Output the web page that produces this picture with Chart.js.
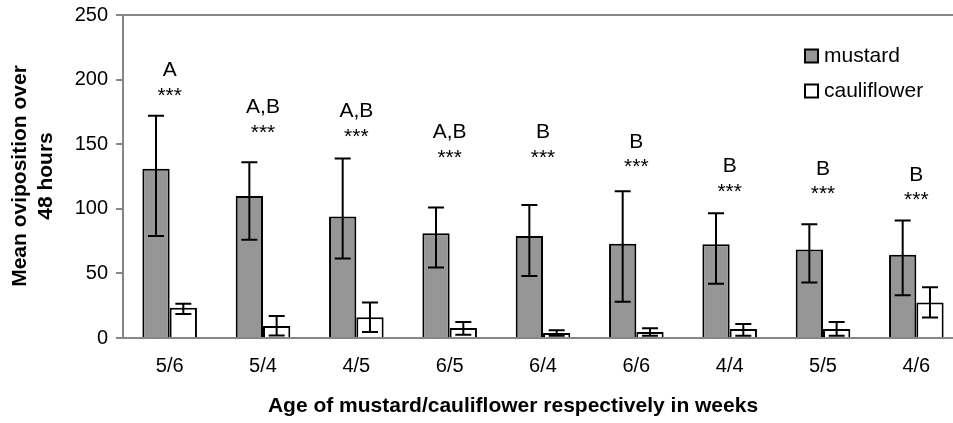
<!DOCTYPE html>
<html>
<head>
<meta charset="utf-8">
<script src="https://cdn.jsdelivr.net/npm/chart.js@4"></script>
<style>
  html, body { margin: 0; padding: 0; background: #fff; overflow: hidden; }
  #wrap { width: 953px; height: 423px; overflow: hidden; }
</style>
</head>
<body>
<div id="wrap"><canvas id="ovipositionChart" width="975" height="423"></canvas></div>
<script>
  // mustard/cauliflower age combinations (weeks)
  const categories = ["5/6", "5/4", "4/5", "6/5", "6/4", "6/6", "4/4", "5/5", "4/6"];

  // mean eggs laid over 48 h, with upper/lower ends of the error bars
  const mustard     = [131, 110, 94, 81, 79, 73, 72.5, 68.5, 64.5];
  const mustardHigh = [172, 136, 139, 101, 103, 113.5, 96.5, 88, 91];
  const mustardLow  = [79, 76, 61.5, 54.5, 48, 28, 42, 43, 33];

  const cauliflower     = [23.5, 9.3, 16, 7.7, 3.9, 4.6, 7, 7, 27.4];
  const cauliflowerHigh = [26.6, 17, 27.4, 12.4, 6, 7.5, 10.8, 12.4, 39.2];
  const cauliflowerLow  = [18.6, 2, 4.6, 2.6, 1.8, 1.7, 1.8, 1.8, 15.8];

  // significance letters and the height (in eggs) where the *** sits
  const groupLetters = ["A", "A,B", "A,B", "A,B", "B", "B", "B", "B", "B"];
  const starsAt = [191, 162, 159, 143, 143, 135.5, 116.5, 114.5, 110];

  const yTicks = [0, 50, 100, 150, 200, 250];

  const FONT = "'Liberation Sans', Arial, sans-serif";
  const GRAY_LINE = "#868686";

  const errorBars = {
    id: "errorBars",
    afterDatasetsDraw(chart) {
      const ctx = chart.ctx;
      const y = chart.scales.y;
      const ranges = [[mustardHigh, mustardLow], [cauliflowerHigh, cauliflowerLow]];
      ctx.save();
      ctx.strokeStyle = "#000";
      ctx.lineWidth = 2;
      chart.data.datasets.forEach((ds, d) => {
        const [hi, lo] = ranges[d];
        chart.getDatasetMeta(d).data.forEach((bar, i) => {
          const x = bar.x;
          const yh = y.getPixelForValue(hi[i]);
          const yl = y.getPixelForValue(lo[i]);
          ctx.beginPath();
          ctx.moveTo(x, yh); ctx.lineTo(x, yl);
          ctx.moveTo(x - 8, yh); ctx.lineTo(x + 8, yh);
          ctx.moveTo(x - 8, yl); ctx.lineTo(x + 8, yl);
          ctx.stroke();
        });
      });
      ctx.restore();
    }
  };

  const annotations = {
    id: "annotations",
    afterDraw(chart) {
      const ctx = chart.ctx;
      const xs = chart.scales.x, ys = chart.scales.y;
      ctx.save();
      ctx.fillStyle = "#000";
      ctx.textAlign = "center";
      ctx.textBaseline = "middle";
      ctx.font = "21px " + FONT;
      categories.forEach((c, i) => {
        const x = xs.getPixelForValue(i);
        const sy = ys.getPixelForValue(starsAt[i]);
        ctx.fillText("***", x, sy + 4.5);
        ctx.fillText(groupLetters[i], x, sy - 21);
      });

      // legend
      const items = [["mustard", 56], ["cauliflower", 91]];
      chart.data.datasets.forEach((ds, d) => {
        const cy = items[d][1];
        ctx.fillStyle = ds.backgroundColor;
        ctx.fillRect(805, cy - 6.5, 13, 13);
        ctx.strokeStyle = "#000";
        ctx.lineWidth = 2;
        ctx.strokeRect(805, cy - 6.5, 13, 13);
        ctx.fillStyle = "#000";
        ctx.textAlign = "left";
        ctx.fillText(items[d][0], 824, cy);
      });

      // axis titles
      ctx.textAlign = "center";
      ctx.font = "bold 21px " + FONT;
      ctx.fillText("Age of mustard/cauliflower respectively in weeks", 513, 406);
      ctx.translate(0, 176);
      ctx.rotate(-Math.PI / 2);
      ctx.fillText("Mean oviposition over", 0, 20);
      ctx.fillText("48 hours", 0, 46);
      ctx.restore();
    }
  };

  new Chart(document.getElementById("ovipositionChart"), {
    type: "bar",
    data: {
      labels: categories,
      datasets: [
        {
          label: "mustard",
          data: mustard,
          backgroundColor: "#969696",
          borderColor: "#000",
          borderWidth: 2,
          categoryPercentage: 0.585,
          barPercentage: 1
        },
        {
          label: "cauliflower",
          data: cauliflower,
          backgroundColor: "#ffffff",
          borderColor: "#000",
          borderWidth: 2,
          categoryPercentage: 0.585,
          barPercentage: 1
        }
      ]
    },
    options: {
      responsive: false,
      animation: false,
      devicePixelRatio: 1,
      layout: { padding: { left: 0, top: 15, right: 12, bottom: 0 } },
      scales: {
        x: {
          grid: { display: false },
          border: { display: true, color: GRAY_LINE, width: 2 },
          ticks: { color: "#000", font: { family: FONT, size: 20 }, padding: 8, maxRotation: 0 },
          afterFit(s) { s.height = 85; s.paddingLeft = 0; s.paddingRight = 0; }
        },
        y: {
          min: 0,
          max: 250,
          afterBuildTicks(s) { s.ticks = yTicks.map(v => ({ value: v })); },
          grid: {
            drawOnChartArea: true,
            // only the 250 line is drawn across, as a top frame
            color: c => (c.tick && c.tick.value === 250 ? GRAY_LINE : "rgba(0,0,0,0)"),
            lineWidth: 2,
            tickColor: GRAY_LINE,
            tickLength: 7
          },
          border: { display: true, color: GRAY_LINE, width: 2 },
          ticks: { color: "#000", font: { family: FONT, size: 20 }, padding: 8 },
          afterFit(s) { s.width = 123; s.paddingTop = 0; s.paddingBottom = 0; }
        }
      },
      plugins: {
        legend: { display: false },
        tooltip: { enabled: false }
      }
    },
    plugins: [errorBars, annotations]
  });
</script>
</body>
</html>
